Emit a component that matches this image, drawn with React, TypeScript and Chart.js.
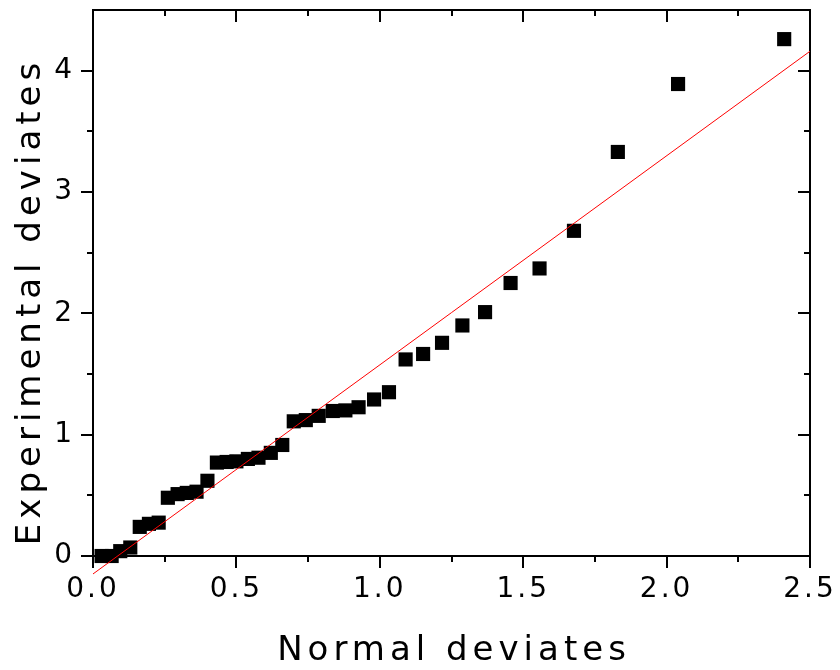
import React, { useEffect, useRef } from 'react';
import { Chart, registerables } from 'chart.js';

Chart.register(...registerables);

// Normal deviates (x) and experimental deviates (y)
const normalDeviates = [
  0.03, 0.065, 0.095, 0.13, 0.163, 0.195, 0.229, 0.261, 0.295, 0.327,
  0.361, 0.399, 0.432, 0.466, 0.5, 0.54, 0.577, 0.62, 0.66, 0.7,
  0.742, 0.787, 0.836, 0.88, 0.926, 0.98, 1.032, 1.09, 1.151, 1.217,
  1.288, 1.367, 1.456, 1.557, 1.677, 1.83, 2.04, 2.41,
];
const experimentalDeviates = [
  0.0, 0.0, 0.04, 0.07, 0.24, 0.265, 0.275, 0.48, 0.51, 0.52,
  0.53, 0.62, 0.77, 0.775, 0.78, 0.8, 0.81, 0.85, 0.915, 1.11,
  1.12, 1.155, 1.195, 1.2, 1.226, 1.29, 1.35, 1.62, 1.665, 1.757,
  1.9, 2.01, 2.25, 2.37, 2.68, 3.33, 3.89, 4.26,
];
// Fitted straight line end points
const fitX = [0, 2.5];
const fitY = [-0.148, 4.16];

const xMajorTicks = [0, 0.5, 1.0, 1.5, 2.0, 2.5];
const xMinorTicks = [0.25, 0.75, 1.25, 1.75, 2.25];
const yMajorTicks = [0, 1, 2, 3, 4];
const yMinorTicks = [0.5, 1.5, 2.5, 3.5];

const xTitle = 'Normal deviates';
const yTitle = 'Experimental deviates';

const FONT = '"DejaVu Sans", sans-serif';

const zeroPad = (s: any) => {
  s.paddingTop = 0;
  s.paddingBottom = 0;
  s.paddingLeft = 0;
  s.paddingRight = 0;
};

const framePlugin = {
  id: 'frame',
  beforeDraw(chart: any) {
    chart.ctx.letterSpacing = '3px';
  },
  beforeDatasetsDraw(chart: any) {
    const ctx = chart.ctx;
    const { left, right, top, bottom } = chart.chartArea;
    const xs = chart.scales.x;
    const ys = chart.scales.y;
    ctx.save();
    ctx.strokeStyle = '#000';
    ctx.lineWidth = 2;
    ctx.strokeRect(left, top, right - left, bottom - top);
    const major = 12;
    const minor = 6;
    ctx.beginPath();
    const xt = (v: number, len: number) => {
      const p = Math.round(xs.getPixelForValue(v));
      ctx.moveTo(p, bottom);
      ctx.lineTo(p, bottom + len);
      ctx.moveTo(p, top);
      ctx.lineTo(p, top + len);
    };
    const yt = (v: number, len: number) => {
      const p = Math.round(ys.getPixelForValue(v));
      ctx.moveTo(left, p);
      ctx.lineTo(left - len, p);
      ctx.moveTo(right, p);
      ctx.lineTo(right - len, p);
    };
    xMajorTicks.forEach((v) => xt(v, major));
    xMinorTicks.forEach((v) => xt(v, minor));
    yMajorTicks.forEach((v) => yt(v, major));
    yMinorTicks.forEach((v) => yt(v, minor));
    ctx.stroke();
    ctx.restore();
  },
  afterDraw(chart: any) {
    const ctx = chart.ctx;
    const { left, right } = chart.chartArea;
    ctx.save();
    ctx.fillStyle = '#000';
    ctx.font = `34px ${FONT}`;
    ctx.letterSpacing = '5px';
    ctx.textAlign = 'center';
    ctx.textBaseline = 'alphabetic';
    ctx.fillText(xTitle, (left + right) / 2 + 2.5, 660);
    ctx.translate(40, 304);
    ctx.rotate(-Math.PI / 2);
    ctx.fillText(yTitle, 2.5, 0);
    ctx.restore();
    ctx.letterSpacing = '0px';
  },
};

export default function App() {
  const ref = useRef<HTMLCanvasElement>(null);
  useEffect(() => {
    const points = normalDeviates.map((x, i) => ({ x, y: experimentalDeviates[i] }));
    const line = fitX.map((x, i) => ({ x, y: fitY[i] }));
    const chart = new Chart(ref.current as HTMLCanvasElement, {
      type: 'scatter',
      data: {
        datasets: [
          {
            type: 'line',
            data: line,
            borderColor: '#ff0000',
            borderWidth: 1,
            pointRadius: 0,
            fill: false,
            clip: false,
          } as any,
          {
            data: points,
            pointStyle: 'rect',
            pointRadius: 10,
            pointHoverRadius: 10,
            backgroundColor: '#000',
            borderWidth: 0,
            clip: false,
          } as any,
        ],
      },
      options: {
        animation: false,
        responsive: false,
        devicePixelRatio: 1,
        layout: { padding: { left: 0, top: 7, right: 30, bottom: 0 } },
        plugins: { legend: { display: false }, tooltip: { enabled: false } },
        scales: {
          x: {
            type: 'linear',
            min: 0,
            max: 2.5,
            grid: { display: false, drawTicks: false },
            border: { display: false },
            ticks: {
              stepSize: 0.5,
              padding: 17,
              color: '#000',
              font: { family: FONT, size: 28 },
              callback: (v: any) => Number(v).toFixed(1),
            },
            afterFit: (s: any) => {
              s.height = 114;
              zeroPad(s);
            },
          },
          y: {
            type: 'linear',
            min: 0,
            max: 4.5,
            grid: { display: false, drawTicks: false },
            border: { display: false },
            ticks: {
              stepSize: 1,
              padding: 18,
              color: '#000',
              font: { family: FONT, size: 28 },
              callback: (v: any) => (Number.isInteger(Number(v)) ? String(v) : null),
            },
            afterFit: (s: any) => {
              s.width = 93;
              zeroPad(s);
            },
          },
        },
      },
      plugins: [framePlugin],
    });
    return () => chart.destroy();
  }, []);
  return (
    <div style={{ position: 'absolute', left: 0, top: 0, width: 840, height: 670, background: '#fff' }}>
      <canvas ref={ref} width={840} height={670} style={{ display: 'block', width: 840, height: 670 }} />
    </div>
  );
}
